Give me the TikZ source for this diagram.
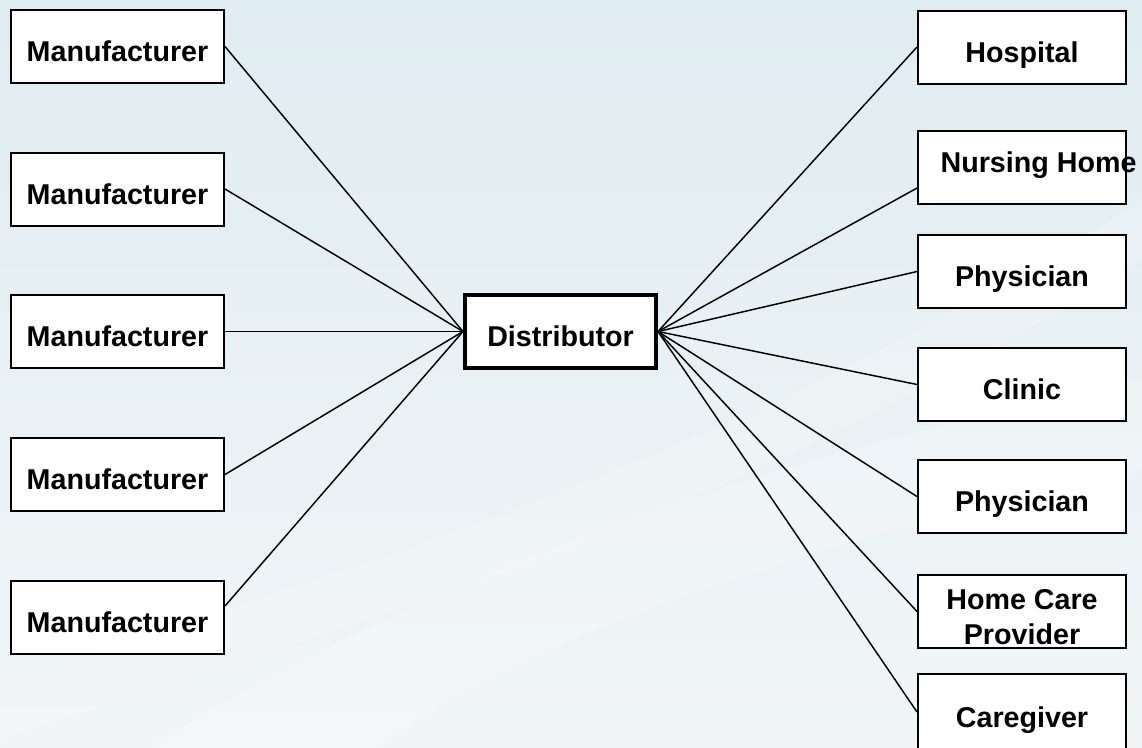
\documentclass[tikz,border=0pt]{standalone}
\usepackage{fontspec}
\setmainfont{Liberation Sans}
\definecolor{bgtop}{RGB}{223,236,241}
\definecolor{bgbot}{RGB}{241,245,247}
\begin{document}
\begin{tikzpicture}[x=0.75pt,y=-0.75pt,
 box/.style={draw,line width=1.5pt,fill=white,inner sep=2pt,minimum height=54.75pt,
  font=\fontsize{21.5}{26}\selectfont\bfseries,text height=22.9pt,text depth=0pt,align=center},
 mfr/.style={box,minimum width=159.75pt},
 cust/.style={box,minimum width=156pt},
 link/.style={line width=1.1pt}]
 \clip (0,0) rectangle (1142,747);
 \shade [top color=bgtop, bottom color=bgbot] (0,0) rectangle (1142,747);
 \fill [white, opacity=0.22] (150,747) .. controls (450,560) and (800,450) .. (1142,380)
  -- (1142,470) .. controls (800,540) and (500,650) .. (380,747) -- cycle;
 \fill [white, opacity=0.18] (0,690) .. controls (350,560) and (700,480) .. (1142,200)
  -- (1142,260) .. controls (700,540) and (350,620) .. (0,740) -- cycle;

 \node [mfr] (m1) at (117.5,46.5) {Manufacturer};
 \node [mfr] (m2) at (117.5,189) {Manufacturer};
 \node [mfr] (m3) at (117.5,331.5) {Manufacturer};
 \node [mfr] (m4) at (117.5,474.5) {Manufacturer};
 \node [mfr] (m5) at (117.5,617) {Manufacturer};
 \node [box,minimum width=143.25pt,line width=3pt] (dist) at (560.5,331.5) {Distributor};
 \node [cust] (hosp) at (1022,47) {Hospital};
 \node [cust,text height=7.9pt] (nh) at (1022,167.5) {\makebox[0pt]{\hspace{24.75pt}Nursing Home}};
 \node [cust] (phy1) at (1022,271.5) {Physician};
 \node [cust] (clin) at (1022,384.5) {Clinic};
 \node [cust] (phy2) at (1022,496.5) {Physician};
 \node [cust,text height=48.75pt] (hcp) at (1022,611.5) {Home Care\\Provider};
 \node [cust,minimum height=57pt] (care) at (1022,712) {Caregiver};

 \foreach \m in {m1,m2,m3,m4} \draw [link] (\m.east) -- (dist.west);
 \draw [link] ([yshift=8.25pt]m5.east) -- (dist.west);
 \foreach \c in {hosp,phy1,clin,phy2,hcp,care} \draw [link] (dist.east) -- (\c.west);
 \draw [link] (dist.east) -- ([yshift=-15.4pt]nh.west);
\end{tikzpicture}
\end{document}
